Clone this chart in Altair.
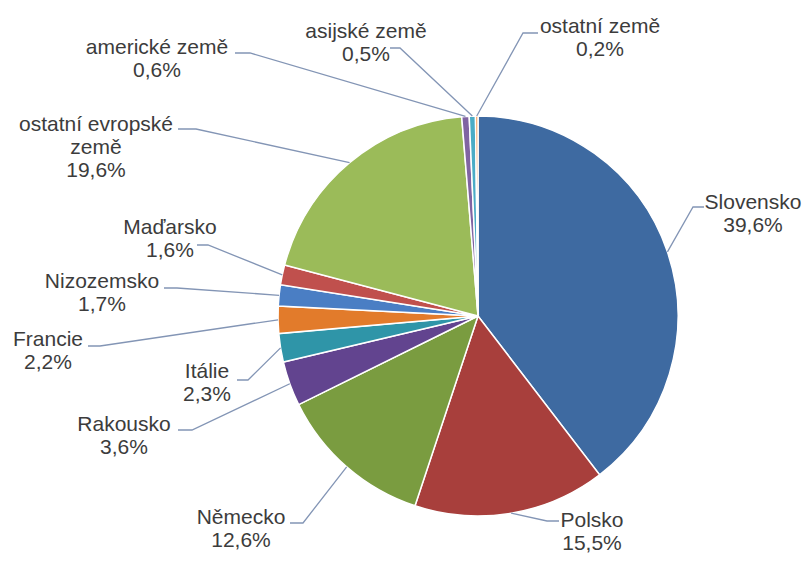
import math
import altair as alt
import pandas as pd

# ---- data ----
categories = ["Slovensko", "Polsko", "Německo", "Rakousko", "Itálie", "Francie",
              "Nizozemsko", "Maďarsko", "ostatní evropské země", "americké země",
              "asijské země", "ostatní země"]
shares = [39.6, 15.5, 12.6, 3.6, 2.3, 2.2, 1.7, 1.6, 19.6, 0.6, 0.5, 0.2]
name_lines = [["Slovensko"], ["Polsko"], ["Německo"], ["Rakousko"], ["Itálie"],
              ["Francie"], ["Nizozemsko"], ["Maďarsko"], ["ostatní evropské", "země"],
              ["americké země"], ["asijské země"], ["ostatní země"]]
colors = ["#3E6AA1", "#A83F3C", "#7A9C40", "#62448F", "#2F95A8", "#E27B2B",
          "#4A7EC4", "#C0504D", "#9BBB59", "#8064A2", "#4BACC6", "#F79646"]

# ---- layout (pixels within the chart area) ----
W, H = 795, 549
CX, CY, R = 470, 308, 200
FONT_SIZE = 21
LINE_H = 23
# label centre (first line), elbow of leader line, end of horizontal part
label_layout = {
    "Slovensko":             (745, 195, 685, 199, 696),
    "Polsko":                (584, 513, 539, 513, 551),
    "Německo":               (233, 510, 295, 515, 282),
    "Rakousko":              (116, 417, 184, 422, 170),
    "Itálie":                (199, 364, 240, 372, 229),
    "Francie":               (40, 332, 92, 338, 80),
    "Nizozemsko":            (94, 274, 169, 280, 156),
    "Maďarsko":              (162, 220, 200, 237, 189),
    "ostatní evropské země": (88, 117, 188, 121, 170),
    "americké země":         (149, 40, 242, 45, 227),
    "asijské země":          (358, 24, 392, 40, 382),
    "ostatní země":          (592, 19, 515, 25, 530),
}

total = sum(shares)
pie_rows, line_rows, text_rows = [], [], []
cum = 0.0
for i, (cat, v) in enumerate(zip(categories, shares)):
    mid = (cum + v / 2) / total * 2 * math.pi
    cum += v
    pie_rows.append({"cat": cat, "share": v, "idx": i})
    ex, ey = CX + R * math.sin(mid), CY - R * math.cos(mid)
    lx, ly, bx, by, hx = label_layout[cat]
    for s, (px, py) in enumerate([(ex, ey), (bx, by), (hx, by)]):
        line_rows.append({"cat": cat, "seq": s, "x": px, "y": py})
    lines = name_lines[i] + [f"{v:.1f}".replace(".", ",") + "%"]
    for j, t in enumerate(lines):
        text_rows.append({"x": lx, "y": ly + j * LINE_H, "t": t})

xs = alt.Scale(domain=[0, W], nice=False, zero=False)
ys = alt.Scale(domain=[0, H], nice=False, zero=False, reverse=True)

pie = alt.Chart(pd.DataFrame(pie_rows)).mark_arc(
    outerRadius=R, stroke="white", strokeWidth=1.5
).encode(
    theta=alt.Theta("share:Q", stack=True),
    order=alt.Order("idx:Q"),
    color=alt.Color("cat:N", scale=alt.Scale(domain=categories, range=colors), legend=None),
    x=alt.value(CX),
    y=alt.value(CY),
)

leaders = alt.Chart(pd.DataFrame(line_rows)).mark_line(
    color="#8395B5", strokeWidth=1.3
).encode(
    x=alt.X("x:Q", scale=xs, axis=None),
    y=alt.Y("y:Q", scale=ys, axis=None),
    detail="cat:N",
    order="seq:Q",
)

labels = alt.Chart(pd.DataFrame(text_rows)).mark_text(
    align="center", baseline="middle", fontSize=FONT_SIZE,
    font="Liberation Sans", color="#3C3C3C"
).encode(
    x=alt.X("x:Q", scale=xs, axis=None),
    y=alt.Y("y:Q", scale=ys, axis=None),
    text="t:N",
)

chart = alt.layer(pie, leaders, labels).properties(
    width=W, height=H, autosize="none", padding=0, background="white"
).configure_view(stroke=None)

chart.save("out.html", embed_options={"renderer": "svg", "actions": False})
